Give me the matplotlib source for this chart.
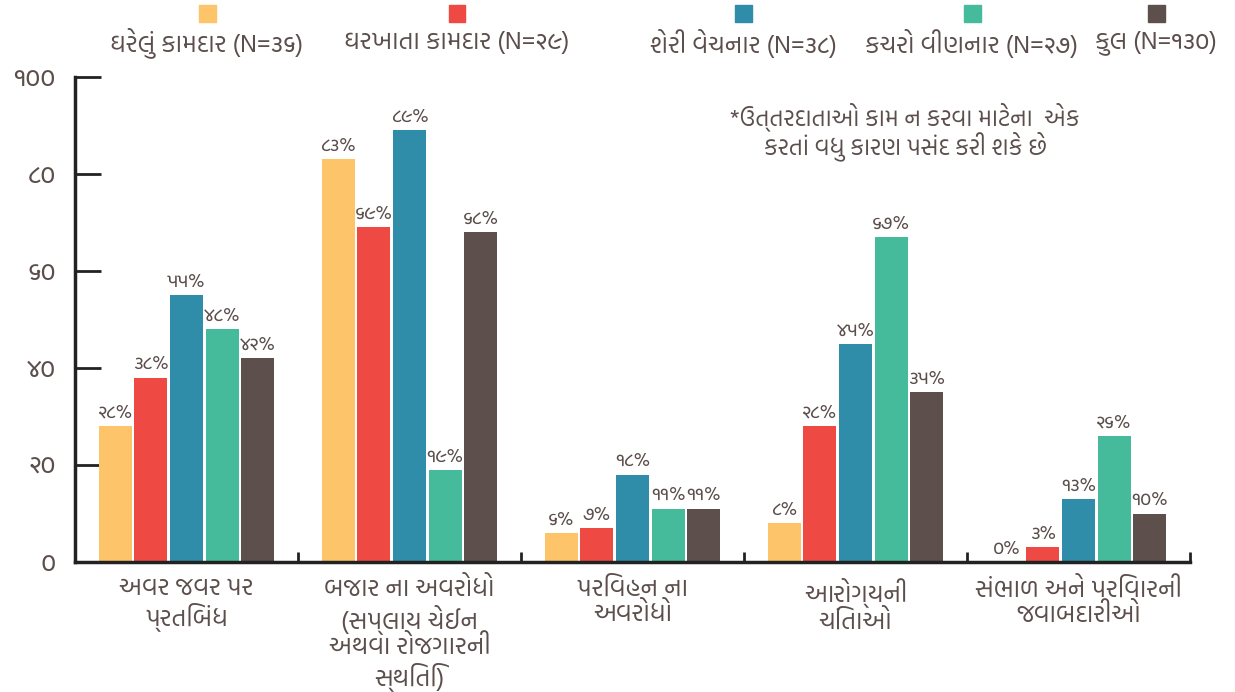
import matplotlib
matplotlib.use("Agg")
import matplotlib.pyplot as plt
import numpy as np

# ---------------- data ----------------
categories = [
    "અવર જવર પર\nપ્રતિબંધ",
    "બજાર ના અવરોધો\n(સપ્લાય ચેઈન\nઅથવા રોજગારની\nસ્થિતિ)",
    "પરિવહન ના\nઅવરોધો",
    "આરોગ્યની\nચિંતાઓ",
    "સંભાળ અને પરિવારની\nજવાબદારીઓ",
]
series_names = [
    "ઘરેલું કામદાર (N=૩૬)",
    "ઘરખાતા કામદાર (N=૨૯)",
    "શેરી વેચનાર (N=૩૮)",
    "કચરો વીણનાર (N=૨૭)",
    "કુલ (N=૧૩૦)",
]
domestic = [28, 83, 6, 8, 0]
home_based = [38, 69, 7, 28, 3]
street_vendor = [55, 89, 18, 45, 13]
waste_picker = [48, 19, 11, 67, 26]
total = [42, 68, 11, 35, 10]
series_values = [domestic, home_based, street_vendor, waste_picker, total]
colors = ["#FDC46A", "#EF4943", "#2F8DA9", "#45BB9B", "#5D4F4B"]
y_ticks = [0, 20, 40, 60, 80, 100]
note = "*ઉત્તરદાતાઓ કામ ન કરવા માટેના  એક\nકરતાં વધુ કારણ પસંદ કરી શકે છે"

plt.rcParams["font.family"] = ["Hind Vadodara", "Mukta Vaani", "Noto Sans Gujarati UI", "DejaVu Sans"]

gdig = str.maketrans("0123456789", "૦૧૨૩૪૫૬૭૮૯")
def gnum(v):
    return str(v).translate(gdig)

txt_color = "#5B4E4B"

fig = plt.figure(figsize=(12.35, 6.92), dpi=100)
ax = fig.add_axes([75 / 1235, 1 - 562 / 692, (1190 - 75) / 1235, (562 - 77) / 692])

n = len(series_values)
x = np.arange(len(categories))
step = 0.16
width = 0.148
for i, (vals, col) in enumerate(zip(series_values, colors)):
    pos = x + (i - (n - 1) / 2) * step
    ax.bar(pos, vals, width=width, color=col, zorder=2)
    for p, v in zip(pos, vals):
        ax.text(p, v + 0.9, gnum(v) + "%", ha="center", va="bottom",
                fontsize=14, color=txt_color)

ax.set_xlim(-0.5, len(categories) - 0.5)
ax.set_ylim(0, 100)
ax.set_yticks(y_ticks)
ax.set_yticklabels([gnum(t) for t in y_ticks], fontsize=19, color=txt_color)
ax.tick_params(axis="y", direction="in", length=19, width=2, color="#222222", pad=14)

ax.set_xticks(x)
ax.set_xticklabels(categories, fontsize=18, color=txt_color, linespacing=1.1, va="top")
ax.tick_params(axis="x", which="major", length=0, pad=11)
ax.set_xticks(np.arange(0.5, len(categories), 1.0), minor=True)
ax.tick_params(axis="x", which="minor", direction="in", length=7, width=2, color="#222222")

for s in ["top", "right"]:
    ax.spines[s].set_visible(False)
for s in ["left", "bottom"]:
    ax.spines[s].set_linewidth(2.5)
    ax.spines[s].set_color("#222222")

# legend: squares above labels
leg_x = [207, 457, 744, 972, 1156]
for name, col, lx in zip(series_names, colors, leg_x):
    fig.patches.append(plt.Rectangle(((lx - 8.5) / 1235, 1 - 22 / 692), 17 / 1235, 17 / 692,
                                     transform=fig.transFigure, color=col))
    fig.text(lx / 1235, 1 - 43 / 692, name, ha="center", va="center",
             fontsize=18, color=txt_color)

fig.text(905 / 1235, 1 - 132 / 692, note, ha="center", va="center",
         fontsize=17, color=txt_color, linespacing=1.0)

fig.savefig("out.png", dpi=100)
